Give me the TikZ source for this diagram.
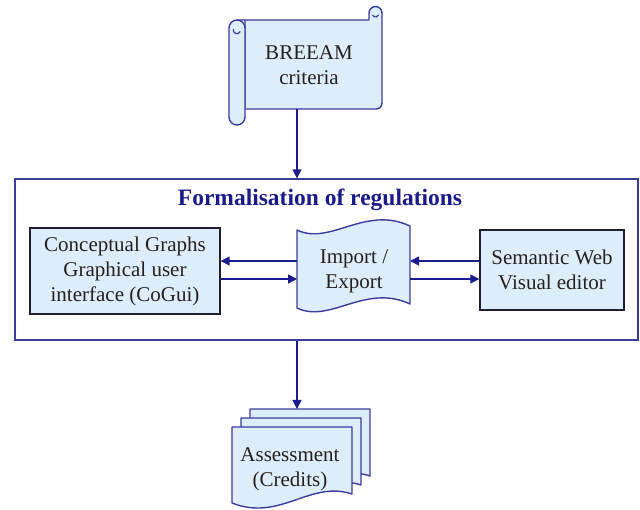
\documentclass[tikz,border=0pt]{standalone}
\usepackage{fontspec}
\setmainfont{Liberation Serif}
\usetikzlibrary{arrows.meta}
\definecolor{fillblue}{HTML}{DEEDFA}
\definecolor{lineblue}{HTML}{3C3CA0}
\definecolor{arrowblue}{HTML}{1C1C8E}
\definecolor{boxline}{HTML}{1E1E30}
\definecolor{titleblue}{HTML}{1A1A8A}
\definecolor{txt}{HTML}{222222}
\tikzset{
  shapeline/.style={draw=lineblue, line width=1.4pt, fill=fillblue, line join=round},
  boxstyle/.style={draw=boxline, line width=1.3pt, fill=fillblue, inner sep=0pt},
  framestyle/.style={draw=lineblue, line width=1.3pt, inner sep=0pt},
  lbl/.style={text=txt, align=center, font=\fontsize{21}{25}\selectfont, inner sep=0pt},
  arr/.style={draw=arrowblue, line width=1.4pt, -{Triangle[length=9pt,width=9pt]}},
}
\begin{document}
\begin{tikzpicture}[x=1pt,y=-1pt]
\useasboundingbox (0,0) rectangle (640,510);

% container
\node[framestyle, minimum width=623pt, minimum height=161pt] (frame) at (326.5,259.5) {};
\node[text=titleblue, font=\bfseries\fontsize{23.5}{28}\selectfont, inner sep=0pt] (title) at (320,200) {Formalisation of regulations};

% scroll (BREEAM criteria)
\path[shapeline] (237,20) -- (369,20) -- (369,13)
  arc[start angle=180, end angle=360, radius=6.5] -- (382,103)
  arc[start angle=0, end angle=90, radius=6] -- (245,109) -- (245,20) -- cycle;
\draw[draw=lineblue, line width=1.2pt] (375.5,13) ++(-3,2) arc[start angle=160, end angle=20, radius=3.2];
\path[shapeline] (229,28) -- (229,117)
  arc[start angle=180, end angle=0, radius=8] -- (245,28)
  arc[start angle=0, end angle=-180, radius=8] -- cycle;
\draw[draw=lineblue, line width=1.2pt] (237,28) ++(-3.5,1) arc[start angle=200, end angle=20, radius=3.6];
\node[lbl] (breeam) at (309,65) {BREEAM\\criteria};
\coordinate (scrollbot) at (297,109);

% left box
\node[boxstyle, minimum width=190pt, minimum height=86pt] (cg) at (125,271) {};
\node[lbl] (cgtext) at (125,271) {Conceptual Graphs\\Graphical user\\interface (CoGui)};

% right box
\node[boxstyle, minimum width=144pt, minimum height=80pt] (sw) at (552,270) {};
\node[lbl] (swtext) at (552,270) {Semantic Web\\Visual editor};

% import/export tape
\path[shapeline] (297,230) .. controls (330,246) and (365,205) .. (410,226)
  -- (410,304) .. controls (365,283) and (330,324) .. (297,308) -- cycle;
\node[lbl] (ie) at (354,271) {Import /\\Export};
\coordinate (ieLa) at (297,261);
\coordinate (ieLb) at (297,279);
\coordinate (ieRa) at (410,261);
\coordinate (ieRb) at (410,279);

% multi document
\foreach \d in {18,9,0} {
  \path[shapeline, shift={(\d,-\d)}] (232,427) -- (352,427) -- (352,494)
    .. controls (310,480) and (280,522) .. (232,503) -- cycle;
}
\node[lbl] (assess) at (290,469) {Assessment\\(Credits)};
\coordinate (doctop) at (297,409);

% connectors
\draw[arr] (scrollbot) -- (scrollbot |- frame.north);
\draw[arr] (ieLa) -- (cg.east |- ieLa);
\draw[arr] (cg.east |- ieLb) -- (ieLb);
\draw[arr] (sw.west |- ieRa) -- (ieRa);
\draw[arr] (ieRb) -- (sw.west |- ieRb);
\draw[arr] (doctop |- frame.south) -- (doctop);
\end{tikzpicture}
\end{document}
